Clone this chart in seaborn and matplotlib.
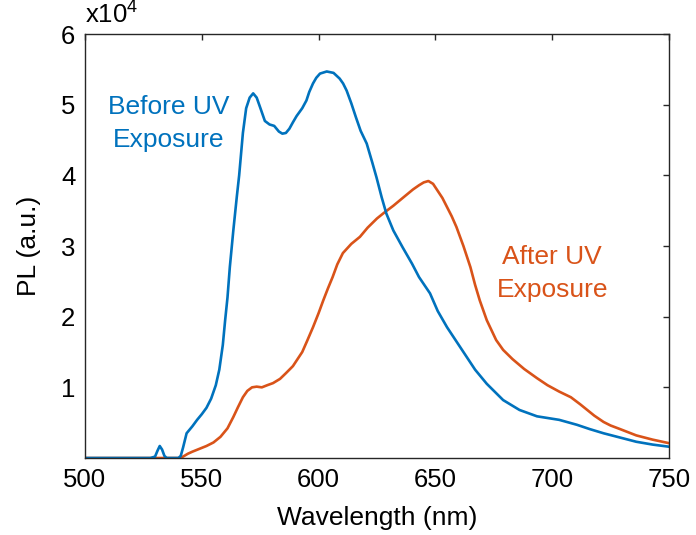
import matplotlib
matplotlib.use("Agg")
import matplotlib.pyplot as plt
import seaborn as sns
import pandas as pd

# PL spectra (wavelength in nm, intensity in units of 1e4 counts)
before_nm = [500, 510, 520, 528, 530, 531, 532, 533, 534, 535, 540, 541, 542, 543.5,
             546, 548, 550, 552, 554, 556, 557.5, 559, 560, 561, 562, 563.5,
             565, 566, 567.6, 569, 570.5, 572, 573.5, 575, 577, 579, 581, 583, 584.5,
             586, 587.5, 589, 590.6, 593, 594.8, 596, 597.6, 599, 600.6, 603.5, 606.4,
             609, 610.5, 612, 614, 616, 618, 620.6, 623, 624.8, 627, 629, 632, 636,
             640, 643, 647.7, 651, 655, 658, 662, 667, 672, 679, 686, 693.5, 703,
             710.6, 716, 722, 729, 736, 743, 750]
before_pl = [0, 0, 0, 0, 0.02, 0.1, 0.17, 0.12, 0.03, 0, 0, 0.03, 0.15, 0.35,
             0.45, 0.54, 0.62, 0.71, 0.84, 1.03, 1.25, 1.6, 1.95, 2.27, 2.7, 3.22,
             3.7, 4.0, 4.6, 4.95, 5.1, 5.16, 5.1, 4.96, 4.77, 4.72, 4.7, 4.62, 4.59,
             4.6, 4.66, 4.75, 4.84, 4.95, 5.06, 5.18, 5.3, 5.38, 5.44, 5.47, 5.45,
             5.37, 5.3, 5.2, 5.02, 4.82, 4.63, 4.45, 4.18, 3.97, 3.69, 3.46, 3.22, 2.98,
             2.75, 2.56, 2.33, 2.08, 1.85, 1.7, 1.5, 1.25, 1.05, 0.82, 0.68, 0.59, 0.54,
             0.47, 0.41, 0.35, 0.29, 0.23, 0.19, 0.16]

after_nm = [500, 540, 542, 544, 546, 549, 552, 555, 558, 561, 563.5, 565.5, 567.6,
            569.5, 571.5, 573.5, 575.7, 578, 580.5, 583.5, 586, 589, 591, 593, 595,
            597.6, 600, 602, 604, 606, 608, 610.4, 614, 617.7, 621, 625, 628, 632,
            636, 640.4, 643, 645, 647, 649, 651, 653, 655, 657, 659, 662, 665, 667,
            669, 672, 676, 679, 683, 688, 693.5, 698, 703, 708, 712, 715, 718, 722,
            725, 729, 736, 743, 750]
after_pl = [0, 0, 0.02, 0.06, 0.09, 0.13, 0.17, 0.22, 0.3, 0.42, 0.58, 0.72, 0.86,
            0.95, 1.0, 1.01, 1.0, 1.03, 1.06, 1.12, 1.2, 1.3, 1.4, 1.5, 1.65,
            1.85, 2.05, 2.23, 2.4, 2.56, 2.74, 2.9, 3.03, 3.13, 3.26, 3.39, 3.47, 3.57,
            3.68, 3.8, 3.86, 3.9, 3.92, 3.88, 3.78, 3.68, 3.55, 3.42, 3.27, 3.0, 2.7, 2.45,
            2.23, 1.95, 1.67, 1.53, 1.4, 1.26, 1.13, 1.03, 0.94, 0.86, 0.76, 0.68, 0.6, 0.51,
            0.46, 0.41, 0.32, 0.26, 0.21]

x_ticks = [500, 550, 600, 650, 700, 750]
y_ticks = [1, 2, 3, 4, 5, 6]
scale = 1e4

blue = "#0072BD"
orange = "#D95319"

sns.set_theme(style="white")
plt.rcParams["font.family"] = ["Liberation Sans", "DejaVu Sans"]
plt.rcParams["mathtext.fontset"] = "custom"
plt.rcParams["mathtext.rm"] = "Liberation Sans"
plt.rcParams["mathtext.it"] = "Liberation Sans"

df_before = pd.DataFrame({"nm": before_nm, "pl": [v * scale for v in before_pl]})
df_after = pd.DataFrame({"nm": after_nm, "pl": [v * scale for v in after_pl]})

fig, ax = plt.subplots(figsize=(6.96, 5.35), dpi=100)
fig.subplots_adjust(left=0.1221, right=0.9612, top=0.9364, bottom=0.1439)

sns.lineplot(data=df_after, x="nm", y="pl", ax=ax, color=orange, linewidth=1.9, sort=False)
sns.lineplot(data=df_before, x="nm", y="pl", ax=ax, color=blue, linewidth=1.9, sort=False)

ax.set_xlim(500, 750)
ax.set_ylim(0, 6 * scale)
ax.set_xticks(x_ticks)
ax.set_xticklabels([str(t) for t in x_ticks])
ax.set_yticks([t * scale for t in y_ticks])
ax.set_yticklabels([str(t) for t in y_ticks])

ax.tick_params(direction="in", length=4.5, width=1, colors="#262626",
               labelsize=18.5, top=True, right=True, pad=7, labelcolor="black")
for sp in ax.spines.values():
    sp.set_visible(True)
    sp.set_color("#262626")
    sp.set_linewidth(1.0)

ax.set_xlabel("Wavelength (nm)", fontsize=19, color="black", labelpad=10)
ax.set_ylabel("PL (a.u.)", fontsize=19, color="black", labelpad=14)

ax.text(0.0, 1.012, r"x10$^{4}$", transform=ax.transAxes, fontsize=18.5,
        ha="left", va="bottom", color="black")

ax.text(536, 4.73 * scale, "Before UV\nExposure", color=blue, fontsize=19,
        ha="center", va="center", multialignment="center", linespacing=1.45)
ax.text(700, 2.61 * scale, "After UV\nExposure", color=orange, fontsize=19,
        ha="center", va="center", multialignment="center", linespacing=1.45)

fig.savefig("out.png", dpi=100, facecolor="white")
